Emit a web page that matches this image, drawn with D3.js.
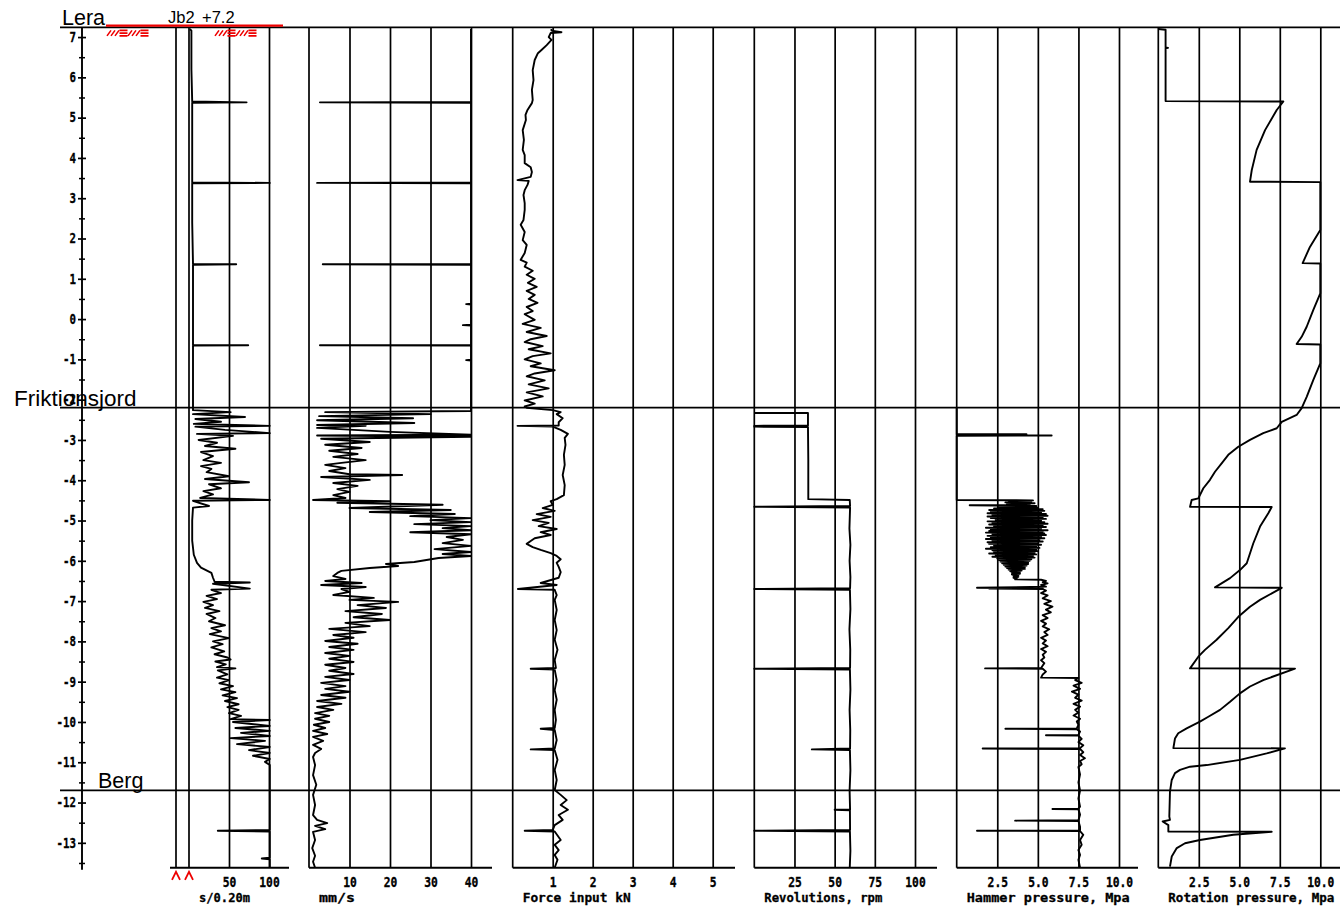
<!DOCTYPE html>
<html><head><meta charset="utf-8">
<script src="https://cdn.jsdelivr.net/npm/d3@7"></script>
<style>body{margin:0;background:#fff}svg{display:block}</style>
</head><body>
<svg id="chart" width="1340" height="907"></svg>
<script>
// ---------------- DATA ----------------
const depthTicks = [7,6,5,4,3,2,1,0,-1,-2,-3,-4,-5,-6,-7,-8,-9,-10,-11,-12,-13];
const layerNames = ["Lera","Friktionsjord","Berg"];
const layerDepths = [7.2,-2.2,-11.7];
const boreName = "Jb2";
const groundLevel = "+7.2";

const penTicks = [50,100];
const rateTicks = [10,20,30,40];
const forceTicks = [1,2,3,4,5];
const rpmTicks = [25,50,75,100];
const hammerTicks = [2.5,5,7.5,10];
const rotTicks = [2.5,5,7.5,10];
const titles = ["s/0.20m","mm/s","Force input kN","Revolutions, rpm","Hammer pressure, Mpa","Rotation pressure, Mpa"];

// [depth (m), value]
const penetration = [[7.2,1],[7.16,3],[6.2,3],[5.4,4],[5.38,72],[5.37,4],[4.5,4],[3.39,4],[3.38,101],[3.37,4],[2.4,4],[1.37,5],[1.36,59],[1.35,5],[0.5,5],[-0.64,5],[-0.65,74],[-0.66,5],[-2.2,5],
[-2.26,5],[-2.31,52],[-2.36,5],[-2.43,70],[-2.48,8],[-2.55,40],[-2.6,6],[-2.65,101],[-2.67,8],[-2.75,45],[-2.83,101],[-2.85,10],[-2.9,55],[-3.0,12],[-3.07,35],[-3.15,20],[-3.22,58],[-3.3,15],[-3.4,30],[-3.5,18],[-3.57,40],[-3.65,15],[-3.72,28],[-3.8,22],[-3.9,50],[-3.97,20],[-4.05,75],[-4.1,25],[-4.2,40],[-4.27,18],[-4.35,30],[-4.44,14],[-4.49,101],[-4.51,5],[-4.64,25],[-4.68,5],[-5.0,4],[-5.5,4],[-5.85,6],[-6.05,10],[-6.17,15],[-6.3,28],[-6.42,30],[-6.52,32],[-6.54,76],[-6.57,30],[-6.69,76],[-6.72,28],[-6.8,40],[-6.87,22],[-6.95,35],[-7.02,18],[-7.1,30],[-7.17,20],[-7.25,38],[-7.32,22],[-7.42,33],[-7.5,25],[-7.6,45],[-7.67,28],[-7.75,40],[-7.82,26],[-7.92,50],[-8.0,30],[-8.07,42],[-8.15,28],[-8.25,44],[-8.32,32],[-8.4,48],[-8.45,52],[-8.5,33],[-8.57,46],[-8.64,35],[-8.67,58],[-8.72,36],[-8.82,48],[-8.9,35],[-8.96,50],[-9.04,38],[-9.11,55],[-9.19,40],[-9.26,58],[-9.34,42],[-9.41,60],[-9.48,45],[-9.56,62],[-9.63,48],[-9.7,62],[-9.78,50],[-9.85,65],[-9.93,52],[-9.95,101],[-10.0,55],[-10.1,101],[-10.15,58],[-10.22,101],[-10.27,65],[-10.35,101],[-10.4,52],[-10.47,95],[-10.55,60],[-10.62,101],[-10.7,75],[-10.77,101],[-10.84,80],[-10.92,101],[-10.99,95],[-11.07,101],[-12.68,101],[-12.7,36],[-12.72,101],[-13.37,101],[-13.39,91],[-13.41,101],[-13.62,101]];

const rate = [[7.2,40],[5.39,40],[5.38,2.7],[5.37,40],[3.39,40],[3.38,2],[3.37,40],[1.37,40],[1.36,3.4],[1.35,40],[0.38,40],[0.37,38.8],[0.36,40],[-0.14,40],[-0.15,38],[-0.16,40],[-0.64,40],[-0.65,2.7],[-0.66,40],[-1.01,40],[-1.02,38.8],[-1.03,40],[-2.2,40],
[-2.28,40],[-2.31,4],[-2.36,30],[-2.41,2.5],[-2.46,25.7],[-2.51,2],[-2.58,26],[-2.63,2],[-2.65,14],[-2.7,2],[-2.8,20],[-2.87,40],[-2.89,2],[-2.92,40],[-2.97,3],[-3.05,15],[-3.12,4],[-3.2,13],[-3.27,5],[-3.35,12],[-3.42,6],[-3.5,14],[-3.57,8],[-3.62,4],[-3.7,9],[-3.77,5],[-3.85,10],[-3.87,23],[-3.92,3],[-3.99,15],[-4.07,6],[-4.14,12],[-4.22,7],[-4.29,10],[-4.37,6],[-4.44,9],[-4.49,1],[-4.52,20],[-4.56,7],[-4.61,33],[-4.69,10],[-4.74,35],[-4.79,15],[-4.84,36],[-4.89,25],[-4.94,40],[-4.99,30],[-5.04,40],[-5.09,26],[-5.14,40],[-5.19,33],[-5.24,40],[-5.29,25],[-5.34,40],[-5.41,34],[-5.48,38],[-5.56,33],[-5.63,40],[-5.71,31],[-5.78,40],[-5.83,33],[-5.88,40],[-5.93,32],[-6.03,26],[-6.08,19],[-6.13,22],[-6.18,15],[-6.25,8],[-6.3,7],[-6.38,6],[-6.45,9],[-6.5,4],[-6.55,13],[-6.6,3],[-6.65,14],[-6.7,8],[-6.77,10],[-6.85,6],[-6.92,16],[-6.97,10],[-7.02,22],[-7.1,12],[-7.17,19],[-7.25,9],[-7.32,18],[-7.4,11],[-7.47,20],[-7.54,9],[-7.62,15],[-7.69,5],[-7.77,14],[-7.84,6],[-7.91,11],[-7.99,4],[-8.06,12],[-8.14,5],[-8.21,11],[-8.29,4],[-8.36,10],[-8.43,5],[-8.51,11],[-8.58,4],[-8.66,9],[-8.73,5],[-8.81,11],[-8.88,4],[-8.96,10],[-9.03,3],[-9.11,9],[-9.18,4],[-9.25,10],[-9.33,3],[-9.4,9],[-9.48,2],[-9.55,8],[-9.63,2],[-9.7,6],[-9.78,1.5],[-9.85,5],[-9.92,1.5],[-10.0,5],[-10.07,1.2],[-10.15,4],[-10.22,1],[-10.3,4.5],[-10.37,1],[-10.47,3.5],[-10.57,1],[-10.67,3],[-10.77,1.5],[-10.87,1],[-11.07,1.5],[-11.32,1],[-11.56,1.8],[-11.81,1],[-12.06,1.5],[-12.31,1],[-12.43,2],[-12.51,4.5],[-12.58,1.5],[-12.66,4],[-12.73,1],[-12.93,1.5],[-13.13,0.8],[-13.32,1.5],[-13.47,1],[-13.62,1.5]];

const force = [[7.2,0.97],[7.16,0.97],[7.12,1.22],[7.1,0.95],[7.0,0.9],[6.93,0.97],[6.8,0.85],[6.68,0.72],[6.6,0.63],[6.43,0.55],[6.18,0.5],[5.93,0.52],[5.69,0.48],[5.44,0.5],[5.36,0.48],[5.19,0.37],[5.07,0.32],[4.94,0.33],[4.69,0.25],[4.45,0.28],[4.2,0.25],[4.07,0.3],[3.87,0.3],[3.77,0.45],[3.65,0.48],[3.53,0.45],[3.45,0.12],[3.43,0.4],[3.33,0.37],[3.2,0.3],[3.08,0.27],[2.88,0.3],[2.71,0.3],[2.46,0.27],[2.34,0.2],[2.16,0.3],[1.96,0.25],[1.84,0.35],[1.64,0.3],[1.47,0.2],[1.4,0.35],[1.3,0.3],[1.2,0.5],[1.1,0.35],[1.0,0.55],[0.9,0.38],[0.8,0.6],[0.7,0.35],[0.6,0.55],[0.5,0.4],[0.4,0.62],[0.3,0.35],[0.2,0.5],[0.12,0.3],[-0.02,0.55],[-0.12,0.25],[-0.22,0.7],[-0.32,0.35],[-0.42,0.85],[-0.5,0.45],[-0.57,0.3],[-0.67,0.75],[-0.75,0.4],[-0.85,0.95],[-0.92,0.5],[-1.0,0.3],[-1.1,0.7],[-1.17,0.45],[-1.27,1.05],[-1.35,0.55],[-1.42,0.35],[-1.52,0.8],[-1.62,0.4],[-1.72,0.9],[-1.82,0.35],[-1.92,0.75],[-2.02,0.3],[-2.1,0.55],[-2.17,0.3],[-2.2,0.35],
[-2.26,1.0],[-2.31,1.2],[-2.36,1.1],[-2.46,1.25],[-2.56,1.15],[-2.64,1.15],[-2.65,0.12],[-2.67,1.0],[-2.75,1.2],[-2.85,1.38],[-2.95,1.3],[-3.12,1.32],[-3.37,1.28],[-3.62,1.3],[-3.87,1.25],[-4.12,1.3],[-4.37,1.28],[-4.47,1.1],[-4.52,0.95],[-4.61,1.0],[-4.69,0.75],[-4.76,1.05],[-4.84,0.6],[-4.91,0.95],[-4.99,0.5],[-5.06,0.9],[-5.14,0.65],[-5.21,1.1],[-5.29,0.7],[-5.36,0.95],[-5.44,0.55],[-5.51,0.45],[-5.58,0.35],[-5.66,0.5],[-5.73,0.7],[-5.81,0.95],[-5.88,1.1],[-5.96,1.2],[-6.05,1.1],[-6.15,1.15],[-6.28,1.2],[-6.42,1.15],[-6.55,0.7],[-6.6,1.1],[-6.7,0.13],[-6.72,1.05],[-6.85,1.1],[-6.97,1.05],[-7.22,1.1],[-7.47,1.05],[-7.72,1.1],[-7.96,1.05],[-8.21,1.12],[-8.46,1.05],[-8.66,1.08],[-8.68,0.45],[-8.7,1.05],[-8.96,1.1],[-9.21,1.05],[-9.45,1.1],[-9.7,1.05],[-9.95,1.08],[-10.15,1.05],[-10.17,0.7],[-10.2,1.05],[-10.45,1.1],[-10.66,1.05],[-10.68,0.45],[-10.7,1.05],[-10.94,1.12],[-11.19,1.05],[-11.44,1.1],[-11.69,1.05],[-11.81,1.2],[-11.94,1.35],[-12.06,1.2],[-12.18,1.38],[-12.31,1.15],[-12.43,1.25],[-12.56,1.05],[-12.68,1.0],[-12.7,0.3],[-12.72,1.05],[-12.93,1.2],[-13.05,1.05],[-13.18,1.15],[-13.3,1.05],[-13.42,1.12],[-13.62,1.05]];

const rpm = [[-2.33,0],[-2.33,33.4],[-2.64,33.4],[-2.65,0],[-2.67,0],[-2.68,33.4],[-3.5,33.6],[-4.47,33.6],[-4.49,59.4],[-4.64,59.6],[-4.66,0],[-4.68,59.6],[-5.2,59.2],[-5.6,59.8],[-6.0,59.3],[-6.4,59.8],[-6.68,59.6],[-6.7,0],[-6.72,59.5],[-7.2,59.8],[-7.7,59.2],[-8.2,59.7],[-8.66,59.6],[-8.68,0],[-8.7,59.5],[-9.2,59.8],[-9.7,59.3],[-10.2,59.7],[-10.66,59.6],[-10.68,35.8],[-10.7,59.5],[-11.2,59.8],[-11.7,59.3],[-12.17,59.6],[-12.18,50],[-12.19,59.5],[-12.68,59.6],[-12.7,0],[-12.72,59.5],[-13.2,59.8],[-13.62,59.4]];

const hammer = [[-2.2,0],[-2.85,0],[-2.86,4.3],[-2.87,0],[-2.89,5.85],[-2.9,0],[-4.49,0],
[-4.50,4.7],[-4.51,3.2],[-4.53,4.6],[-4.55,3.0],[-4.57,4.8],[-4.59,3.1],[-4.61,4.5],[-4.62,0.8],[-4.64,4.9],[-4.66,2.6],[-4.68,5.0],[-4.70,2.3],[-4.72,5.3],[-4.74,2.0],[-4.76,5.4],[-4.78,2.1],[-4.80,5.2],[-4.82,1.9],[-4.84,5.5],[-4.86,2.2],[-4.88,5.6],[-4.90,1.9],[-4.92,5.3],[-4.94,2.1],[-4.96,5.5],[-4.98,2.4],[-5.00,5.2],[-5.02,1.9],[-5.04,5.4],[-5.06,2.2],[-5.08,5.6],[-5.10,2.0],[-5.12,5.3],[-5.14,2.3],[-5.16,5.5],[-5.18,1.8],[-5.20,5.2],[-5.22,2.1],[-5.24,5.6],[-5.26,2.0],[-5.28,5.3],[-5.30,1.8],[-5.32,5.4],[-5.34,2.2],[-5.36,5.5],[-5.38,1.9],[-5.40,5.2],[-5.42,2.1],[-5.44,5.4],[-5.46,1.8],[-5.48,5.1],[-5.50,2.2],[-5.52,5.3],[-5.54,1.9],[-5.56,5.0],[-5.58,2.0],[-5.60,5.2],[-5.62,2.3],[-5.64,4.9],[-5.66,2.1],[-5.68,5.1],[-5.70,1.8],[-5.72,4.9],[-5.74,2.2],[-5.76,5.0],[-5.78,2.3],[-5.80,4.8],[-5.82,2.0],[-5.84,4.9],[-5.86,2.4],[-5.88,4.7],[-5.90,2.2],[-5.92,4.8],[-5.94,2.5],[-5.96,4.6],[-5.98,2.6],[-6.00,4.5],[-6.02,2.7],[-6.04,4.4],[-6.06,2.8],[-6.08,4.4],[-6.10,2.9],[-6.12,4.3],[-6.14,3.0],[-6.16,4.2],[-6.18,3.1],[-6.20,4.2],[-6.22,3.2],[-6.24,4.0],[-6.26,3.3],[-6.28,3.9],[-6.30,3.4],[-6.32,3.9],[-6.34,3.4],[-6.36,3.8],[-6.38,3.5],[-6.40,3.8],[-6.42,3.5],[-6.44,3.7],[-6.46,3.6],
[-6.47,5.2],[-6.5,5.5],[-6.53,5.3],[-6.56,5.6],[-6.6,5.2],[-6.64,5.5],[-6.67,1.25],[-6.68,5.3],[-6.69,2.0],[-6.7,5.3],[-6.74,5.5],[-6.8,5.2],[-6.86,5.6],[-6.93,5.3],[-7.0,5.8],[-7.07,5.4],[-7.14,5.9],[-7.21,5.5],[-7.28,5.8],[-7.35,5.3],[-7.42,5.6],[-7.49,5.2],[-7.56,5.5],[-7.63,5.3],[-7.7,5.7],[-7.77,5.4],[-7.84,5.6],[-7.91,5.2],[-7.98,5.5],[-8.05,5.3],[-8.12,5.6],[-8.19,5.2],[-8.26,5.5],[-8.33,5.3],[-8.4,5.4],[-8.47,5.2],[-8.54,5.4],[-8.6,5.3],[-8.66,5.2],[-8.67,1.75],[-8.68,5.3],[-8.75,5.5],[-8.82,5.3],[-8.9,5.2],[-8.91,7.5],[-8.96,7.3],[-9.03,7.7],[-9.1,7.2],[-9.18,7.6],[-9.25,7.1],[-9.32,7.5],[-9.4,7.3],[-9.47,7.7],[-9.55,7.2],[-9.62,7.6],[-9.7,7.3],[-9.77,7.5],[-9.84,7.2],[-9.92,7.6],[-9.99,7.4],[-10.07,7.5],[-10.16,7.4],[-10.17,3.0],[-10.18,7.4],[-10.24,7.6],[-10.32,7.5],[-10.33,5.5],[-10.34,7.5],[-10.42,7.7],[-10.5,7.5],[-10.58,7.8],[-10.65,7.6],[-10.66,1.6],[-10.67,7.6],[-10.75,7.8],[-10.82,7.6],[-10.9,7.9],[-10.97,7.6],[-11.05,7.7],[-11.12,7.5],[-11.3,7.6],[-11.5,7.5],[-11.7,7.6],[-11.9,7.5],[-12.1,7.6],[-12.15,7.5],[-12.16,5.9],[-12.17,7.5],[-12.3,7.6],[-12.44,7.5],[-12.45,3.6],[-12.46,7.5],[-12.6,7.6],[-12.69,7.6],[-12.7,1.25],[-12.71,7.6],[-12.8,7.8],[-12.93,7.6],[-13.05,7.7],[-13.18,7.5],[-13.3,7.6],[-13.42,7.5],[-13.62,7.6]];

const rotation = [[7.2,0],[7.18,0.45],[6.74,0.45],[6.73,0.6],[6.72,0.45],[5.41,0.45],[5.40,7.72],[5.19,7.31],[4.69,6.59],[4.20,6.07],[3.70,5.77],[3.41,5.66],[3.40,10],[2.21,10],[1.79,9.36],[1.39,8.91],[1.38,10],[0.64,10],[0.23,9.57],[-0.19,9.16],[-0.44,8.85],[-0.62,8.54],[-0.63,10],[-1.10,10],[-1.51,9.57],[-1.93,9.16],[-2.21,8.85],[-2.38,8.54],[-2.55,7.62],[-2.71,7.31],[-2.83,6.48],[-3.0,5.66],[-3.17,4.94],[-3.37,4.32],[-3.58,3.91],[-3.79,3.5],[-3.99,3.19],[-4.20,2.78],[-4.45,2.47],[-4.49,2.06],[-4.66,1.96],[-4.665,7.0],[-4.82,6.79],[-5.15,6.28],[-5.57,5.86],[-6.06,5.46],[-6.23,5.04],[-6.43,4.43],[-6.66,3.5],[-6.67,7.62],[-6.97,6.28],[-7.14,5.66],[-7.39,4.94],[-7.67,4.32],[-7.96,3.6],[-8.21,2.88],[-8.38,2.47],[-8.67,1.96],[-8.675,8.44],[-8.96,6.48],[-9.12,5.66],[-9.29,5.04],[-9.50,4.43],[-9.70,3.81],[-9.87,3.09],[-9.99,2.57],[-10.16,1.75],[-10.28,1.23],[-10.41,1.03],[-10.65,0.93],[-10.655,7.82],[-10.78,6.69],[-10.94,5.04],[-11.07,2.99],[-11.11,1.96],[-11.19,1.34],[-11.27,1.03],[-11.44,0.83],[-11.73,0.72],[-12.35,0.68],[-12.43,0.72],[-12.47,0.27],[-12.56,0.62],[-12.72,0.62],[-12.725,7.0],[-12.80,4.63],[-12.93,2.57],[-13.01,1.65],[-13.13,1.14],[-13.34,0.83],[-13.59,0.72]];

// ---------------- DRAWING ----------------
const svg = d3.select("#chart");
const W = 1340;
const monoFont = "'DejaVu Sans Mono', monospace";
const sansFont = "'Liberation Sans', Arial, sans-serif";
const y = d3.scaleLinear().domain([7.2, -13.6]).range([29, 867]);
const yTop = y(7.24), yBot = y(-13.62);

const panels = [
  {data: penetration, domain:[0,100], range:[189,269], ticks: penTicks, fmt: d3.format("d"), from:170, to:289, edges:[176,189], tlen:51, tsize:13},
  {data: rate, domain:[0,40], range:[309,471], ticks: rateTicks, fmt: d3.format("d"), from:309, to:492, edges:[309], tlen:36, tsize:13},
  {data: force, domain:[0,5], range:[512.7,712.7], ticks: forceTicks, fmt: d3.format("d"), from:512.7, to:735, edges:[512.7], tlen:108, tsize:13},
  {data: rpm, domain:[0,100], range:[754.3,915], ticks: rpmTicks, fmt: d3.format("d"), from:754.3, to:937, edges:[754.3], tlen:118, tsize:13},
  {data: hammer, domain:[0,10], range:[956.7,1119], ticks: hammerTicks, fmt: d3.format(".1f"), from:956.7, to:1138, edges:[956.7], tlen:163, tsize:13},
  {data: rotation, domain:[0,10], range:[1158.3,1320.3], ticks: rotTicks, fmt: d3.format(".1f"), from:1158.3, to:1345, edges:[1158.3], tlen:166, tsize:12.4}
];

panels.forEach((p, i) => {
  const x = d3.scaleLinear().domain(p.domain).range(p.range);
  const ax = d3.axisBottom(x).tickValues(p.ticks).tickFormat(p.fmt)
    .tickSize(-(yBot - yTop)).tickPadding(9);
  const g = svg.append("g").attr("transform", `translate(0,${yBot})`).call(ax);
  g.select(".domain").remove();
  g.selectAll(".tick line").attr("stroke", "#000").attr("stroke-width", 1.7);
  g.selectAll(".tick text").attr("font-family", monoFont).attr("font-size", 14.5)
    .attr("font-weight", "bold").attr("fill", "#000").attr("stroke", "#000").attr("stroke-width", 0.35)
    .attr("transform", "scale(0.78,1)");
  // bottom base line
  svg.append("line").attr("x1", p.from).attr("x2", p.to).attr("y1", yBot).attr("y2", yBot)
    .attr("stroke", "#000").attr("stroke-width", 2);
  // left edge lines
  p.edges.forEach(ex => {
    svg.append("line").attr("x1", ex).attr("x2", ex).attr("y1", yTop).attr("y2", yBot)
      .attr("stroke", "#000").attr("stroke-width", 1.7);
  });
  // data curve
  const line = d3.line().x(d => x(d[1])).y(d => y(d[0]));
  svg.append("path").datum(p.data).attr("d", line).attr("fill", "none")
    .attr("stroke", "#000").attr("stroke-width", 1.9).attr("stroke-linejoin", "round");
  // title
  svg.append("text").attr("x", x(0) + 10).attr("y", 902).text(titles[i])
    .attr("textLength", p.tlen).attr("lengthAdjust", "spacingAndGlyphs")
    .attr("font-family", monoFont).attr("font-size", p.tsize).attr("font-weight", "bold")
    .attr("fill", "#000").attr("stroke", "#000").attr("stroke-width", 0.3);
});

// red markers under panel 1 edges
panels[0].edges.forEach(ex => {
  svg.append("path").attr("d", `M${ex-4},${yBot+12}L${ex},${yBot+4}L${ex+4},${yBot+12}`)
    .attr("fill", "none").attr("stroke", "#e00").attr("stroke-width", 1.8);
});

// depth axis
const axisX = 82;
svg.append("line").attr("x1", axisX).attr("x2", axisX).attr("y1", yTop).attr("y2", yBot + 2)
  .attr("stroke", "#000").attr("stroke-width", 1.9);
const gl = svg.append("g").attr("transform", `translate(${axisX},0)`)
  .call(d3.axisLeft(y).tickValues(depthTicks).tickSize(4).tickPadding(3.5).tickFormat(d3.format("d")));
gl.select(".domain").remove();
gl.selectAll(".tick line").attr("stroke", "#000").attr("stroke-width", 1.7);
gl.selectAll(".tick text").attr("font-family", monoFont).attr("font-size", 13.5)
  .attr("font-weight", "bold").attr("fill", "#000").attr("stroke", "#000").attr("stroke-width", 0.3)
  .attr("transform", "scale(0.8,1)")
  .text(d => String(d));
const gr = svg.append("g").attr("transform", `translate(${axisX},0)`)
  .call(d3.axisRight(y).tickValues(depthTicks).tickSize(4).tickFormat(""));
gr.select(".domain").remove();
gr.selectAll(".tick line").attr("stroke", "#000").attr("stroke-width", 1.7);
const minor = depthTicks.map(d => d - 0.5);
const gm = svg.append("g").attr("transform", `translate(${axisX - 3},0)`)
  .call(d3.axisRight(y).tickValues(minor).tickSize(6).tickFormat(""));
gm.select(".domain").remove();
gm.selectAll(".tick line").attr("stroke", "#000").attr("stroke-width", 1.5);

// layer boundaries
const layerX = [62, 14, 98];
layerDepths.forEach((d, i) => {
  const yy = i === 0 ? yTop : y(d);
  svg.append("line").attr("x1", 60).attr("x2", W).attr("y1", yy).attr("y2", yy)
    .attr("stroke", "#000").attr("stroke-width", 1.7);
  svg.append("text").attr("x", layerX[i]).attr("y", yy - 2).text(layerNames[i])
    .attr("font-family", sansFont).attr("font-size", i === 1 ? 22.5 : 21.5).attr("fill", "#000");
});

// ground surface (red) and hatch
svg.append("line").attr("x1", 106).attr("x2", 283).attr("y1", yTop - 1.8).attr("y2", yTop - 1.8)
  .attr("stroke", "#e00").attr("stroke-width", 2.2);
function hatch(x0) {
  let d = "";
  const y1 = yTop + 3, y2 = yTop + 8.5;
  for (let k = 0; k < 2; k++) {
    const bx = x0 + k * 21;
    for (let s = 0; s < 3; s++) d += `M${bx + s*4},${y2}L${bx + s*4 + 4},${y1}`;
    [y1, (y1+y2)/2, y2].forEach(hy => { d += `M${bx + 12.5},${hy}L${bx + 20.5},${hy}`; });
  }
  svg.append("path").attr("d", d).attr("stroke", "#e00").attr("stroke-width", 1.6).attr("fill", "none");
}
hatch(107); hatch(215);

svg.append("text").attr("x", 168).attr("y", 22.5).text(boreName)
  .attr("font-family", sansFont).attr("font-size", 16.5).attr("fill", "#000");
svg.append("text").attr("x", 202).attr("y", 22.5).text(groundLevel)
  .attr("font-family", sansFont).attr("font-size", 16.5).attr("fill", "#000");
</script>
</body></html>
